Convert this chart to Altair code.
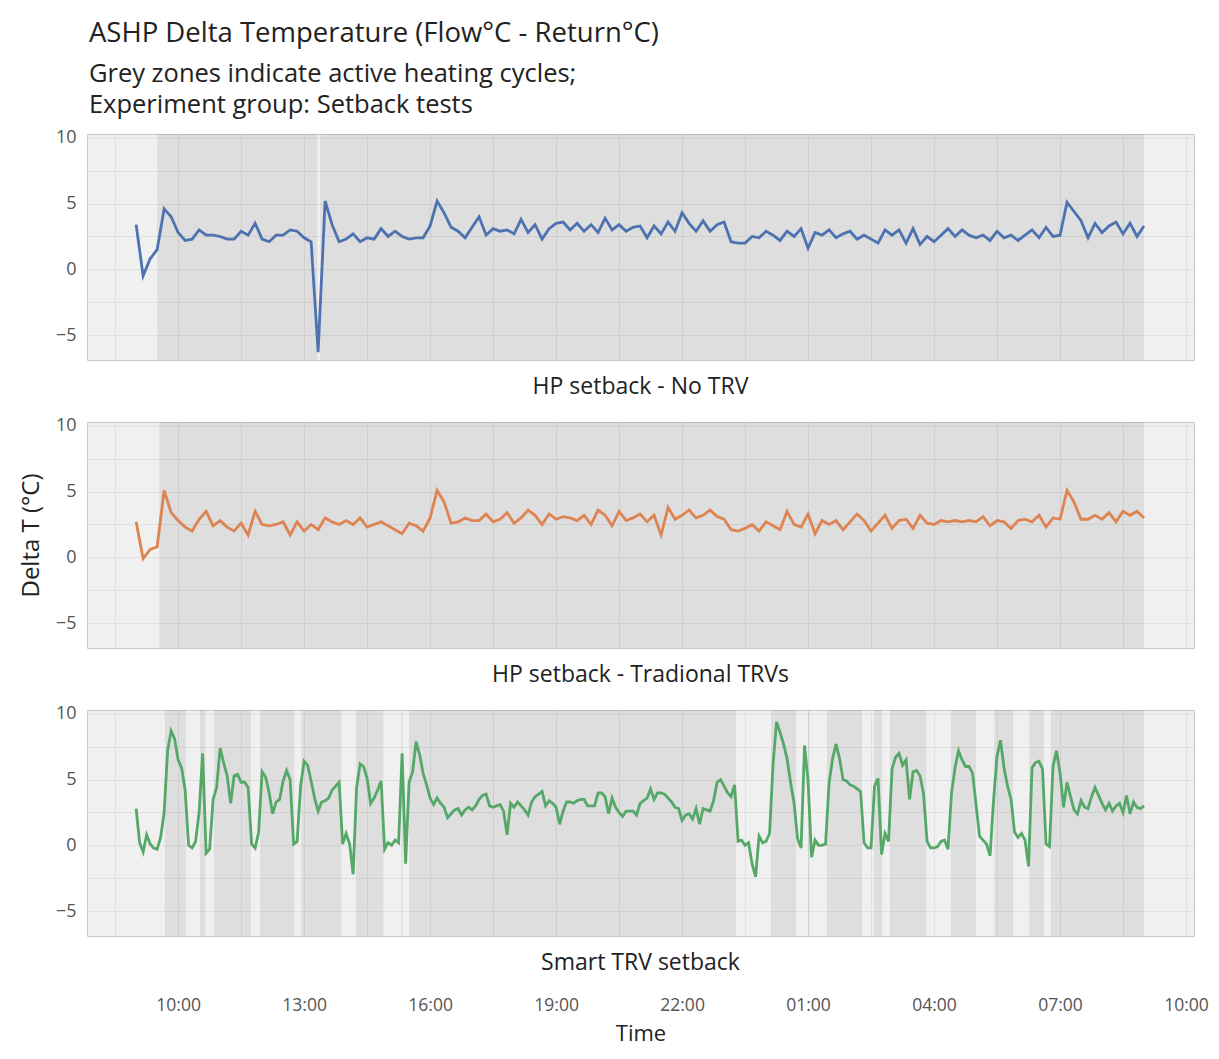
import altair as alt
import pandas as pd

FONT = "Open Sans"

# ---------------- data ----------------
START = "09:00"          # first reading
STEP_MIN_HP = 10         # minutes between readings (HP panels)
STEP_MIN_SMART = 5       # minutes between readings (Smart TRV panel)

hp_no_trv = [
    3.4, -0.5, 0.8, 1.5, 4.6, 4.0, 2.8, 2.2, 2.3, 3.0,
    2.6, 2.6, 2.5, 2.3, 2.3, 2.9, 2.6, 3.5, 2.3, 2.1,
    2.6, 2.6, 3.0, 2.9, 2.4, 2.1, -6.3, 5.2, 3.4, 2.1,
    2.3, 2.7, 2.1, 2.4, 2.3, 3.1, 2.5, 2.9, 2.5, 2.3,
    2.4, 2.4, 3.3, 5.2, 4.3, 3.2, 2.9, 2.4, 3.2, 4.0,
    2.6, 3.1, 2.9, 3.0, 2.7, 3.8, 2.8, 3.4, 2.3, 3.1,
    3.5, 3.6, 3.0, 3.5, 2.9, 3.4, 2.8, 3.9, 3.0, 3.4,
    2.9, 3.2, 3.3, 2.4, 3.3, 2.7, 3.6, 2.9, 4.3, 3.5,
    2.9, 3.7, 2.9, 3.4, 3.6, 2.1, 2.0, 2.0, 2.5, 2.4,
    2.9, 2.6, 2.2, 2.9, 2.5, 3.1, 1.6, 2.8, 2.6, 3.0,
    2.4, 2.7, 2.9, 2.3, 2.6, 2.3, 2.0, 3.0, 2.6, 3.0,
    2.0, 3.1, 1.9, 2.5, 2.1, 2.6, 3.1, 2.5, 3.0, 2.6,
    2.4, 2.6, 2.2, 2.9, 2.4, 2.6, 2.2, 2.6, 3.0, 2.4,
    3.2, 2.5, 2.6, 5.1, 4.4, 3.7, 2.4, 3.5, 2.8, 3.3,
    3.6, 2.7, 3.5, 2.5, 3.3,
]

hp_trad_trv = [
    2.7, -0.1, 0.6, 0.8, 5.1, 3.4, 2.8, 2.3, 2.0, 2.9,
    3.5, 2.4, 2.8, 2.3, 2.0, 2.6, 1.7, 3.5, 2.5, 2.4,
    2.5, 2.7, 1.7, 2.7, 2.0, 2.5, 2.1, 3.0, 2.7, 2.5,
    2.8, 2.5, 3.0, 2.3, 2.5, 2.7, 2.4, 2.1, 1.8, 2.6,
    2.4, 2.0, 3.0, 5.1, 4.2, 2.6, 2.7, 3.0, 2.8, 2.8,
    3.3, 2.7, 2.9, 3.4, 2.6, 3.0, 3.6, 3.2, 2.5, 3.3,
    2.9, 3.1, 3.0, 2.8, 3.2, 2.5, 3.6, 3.2, 2.4, 3.5,
    2.8, 3.0, 3.3, 2.7, 3.2, 1.7, 3.8, 2.9, 3.2, 3.6,
    3.0, 3.2, 3.6, 3.1, 2.9, 2.1, 2.0, 2.2, 2.5, 2.0,
    2.7, 2.4, 2.1, 3.5, 2.5, 2.3, 3.3, 1.8, 2.8, 2.5,
    2.8, 2.1, 2.7, 3.3, 2.8, 2.0, 2.6, 3.2, 2.2, 2.8,
    2.9, 2.2, 3.2, 2.6, 2.5, 2.8, 2.7, 2.8, 2.7, 2.8,
    2.7, 3.1, 2.4, 2.8, 2.7, 2.2, 2.8, 2.9, 2.7, 3.2,
    2.3, 3.0, 2.9, 5.1, 4.2, 2.9, 2.9, 3.2, 2.9, 3.4,
    2.7, 3.5, 3.2, 3.5, 3.0,
]

smart_trv = [
    2.8, 0.2, -0.5, 0.8, 0.1, -0.2, -0.3, 0.6, 2.5, 7.2,
    8.7, 8.1, 6.5, 5.9, 4.2, 0.0, -0.2, 0.3, 2.5, 7.0,
    -0.6, -0.3, 3.5, 4.4, 7.4, 6.3, 5.3, 3.2, 5.3, 5.4,
    4.8, 4.8, 4.4, 0.1, -0.2, 1.0, 5.6, 5.2, 4.0, 2.4,
    3.3, 3.5, 4.9, 5.7, 5.0, 0.1, 0.3, 4.5, 6.4, 6.1,
    4.9, 3.6, 2.6, 3.3, 3.4, 3.6, 4.2, 4.5, 4.8, 0.1,
    0.9, 0.1, -2.2, 4.4, 6.2, 6.0, 5.1, 3.2, 3.6, 4.2,
    4.9, -0.3, 0.2, 0.0, 0.4, 0.2, 7.0, -1.4, 4.8, 5.6,
    7.9, 6.9, 5.5, 4.6, 3.6, 3.1, 3.6, 3.2, 2.9, 2.1,
    2.4, 2.7, 2.8, 2.3, 2.7, 2.9, 2.7, 3.0, 3.5, 3.8,
    3.9, 3.0, 2.9, 3.0, 3.1, 2.6, 0.8, 3.2, 2.9, 3.3,
    3.0, 2.7, 2.3, 3.3, 3.7, 3.9, 4.1, 3.0, 3.4, 3.2,
    2.9, 1.6, 2.6, 3.3, 3.3, 3.2, 3.4, 3.5, 3.5, 3.0,
    3.0, 3.0, 4.0, 4.0, 3.7, 2.4, 3.6, 2.9, 2.5, 2.2,
    2.6, 2.6, 2.6, 2.3, 3.2, 3.4, 3.6, 4.3, 3.5, 4.0,
    4.0, 3.9, 3.6, 3.3, 2.9, 2.8, 1.9, 2.3, 2.4, 2.0,
    2.8, 1.6, 2.8, 2.7, 2.6, 3.4, 4.8, 5.0, 4.5, 4.0,
    3.7, 4.6, 0.3, 0.4, 0.0, 0.2, -1.4, -2.4, 0.7, 0.2,
    0.3, 0.9, 6.2, 9.4, 8.6, 7.7, 6.6, 4.8, 3.2, 0.5,
    -0.2, 7.6, 4.9, -0.9, 0.4, 0.0, 0.0, 0.1, 4.7, 6.6,
    7.7, 6.6, 5.0, 4.9, 4.6, 4.5, 4.3, 4.1, 0.2, -0.2,
    -0.2, 4.5, 5.1, -0.7, 0.9, 0.3, 5.8, 6.7, 7.0, 6.1,
    6.5, 3.5, 5.6, 5.7, 5.3, 3.9, 0.3, -0.2, -0.2, -0.1,
    0.3, 0.4, -0.3, 4.0, 5.9, 7.2, 6.5, 6.0, 6.0, 5.5,
    3.1, 0.7, 0.4, 0.1, -0.8, 3.4, 6.8, 8.0, 5.9, 4.5,
    3.5, 1.0, 0.6, 0.9, 0.4, -1.6, 5.9, 6.3, 6.4, 5.8,
    0.1, -0.1, 6.0, 7.2, 5.5, 2.9, 4.8, 3.7, 2.7, 2.4,
    3.4, 2.9, 2.8, 3.7, 4.4, 3.8, 3.2, 2.7, 3.2, 2.6,
    3.0, 3.2, 2.5, 3.8, 2.4, 3.3, 2.9, 2.8, 3.0,
]

# active heating cycles (start, end) clock times
heat_no_trv = [("09:30", "13:19"), ("13:23", "09:00")]
heat_trad_trv = [("09:33", "09:00")]
heat_smart = [
    ("09:41", "10:11"), ("10:31", "10:39"), ("10:51", "11:44"), ("11:57", "12:46"),
    ("12:56", "13:53"), ("14:14", "14:53"), ("15:19", "15:21"), ("15:30", "23:17"),
    ("00:07", "00:43"), ("01:00", "01:02"), ("01:27", "02:17"), ("02:34", "02:46"),
    ("02:57", "03:49"), ("04:24", "05:00"), ("05:26", "05:53"), ("06:16", "06:37"),
    ("06:47", "09:00"),
]

panel_labels = ["HP setback - No TRV", "HP setback - Tradional TRVs", "Smart TRV setback"]
line_colors = ["#4C72B0", "#DD8452", "#55A868"]

X_TICKS = [8.5, 10, 11.5, 13, 14.5, 16, 17.5, 19, 20.5, 22, 23.5, 25, 26.5, 28, 29.5, 31, 32.5, 34]
Y_TICKS = [-5, -2.5, 0, 2.5, 5, 7.5, 10]
X_DOMAIN = [7.83, 34.19]
Y_DOMAIN = [-6.9, 10.3]

W, H = 1107, 226


def clock_to_h(s, is_end=False):
    hh, mm = s.split(":")
    v = int(hh) + int(mm) / 60.0
    if v < 9 or (is_end and v <= 9):
        v += 24
    return v


X_LABEL_EXPR = ("datum.value % 3 == 1 ? ((datum.value % 24) < 10 ? '0' : '') + "
                "(datum.value % 24) + ':00' : ''")


def make_panel(vals, step, zones, color, label, bottom, ytitle):
    t0 = clock_to_h(START)
    line_df = pd.DataFrame({"h": [t0 + i * step / 60.0 for i in range(len(vals))], "v": vals})
    zone_df = pd.DataFrame({
        "s": [clock_to_h(a) for a, b in zones],
        "e": [clock_to_h(b, True) for a, b in zones],
    })
    xscale = alt.Scale(domain=X_DOMAIN, nice=False, zero=False)
    yscale = alt.Scale(domain=Y_DOMAIN, nice=False, zero=False)
    xaxis = alt.Axis(values=X_TICKS, labelExpr=X_LABEL_EXPR, labels=bottom,
                     title="Time" if bottom else "", grid=True, ticks=False, tickSize=0,
                     domain=False, labelFontSize=17.5, labelPadding=60,
                     titleFontSize=22, titlePadding=10, labelFlush=False)
    yaxis = alt.Axis(values=Y_TICKS, labelExpr="datum.value % 5 == 0 ? datum.label : ''",
                     title=ytitle, grid=True, ticks=False, tickSize=0, domain=False,
                     labelFontSize=18, labelPadding=11, titleFontSize=24, titlePadding=12)
    rect = alt.Chart(zone_df).mark_rect(color="#000000", opacity=0.075).encode(
        x=alt.X("s:Q", scale=xscale, axis=xaxis), x2="e:Q")
    line = alt.Chart(line_df).mark_line(color=color, strokeWidth=2.8).encode(
        x=alt.X("h:Q", scale=xscale, axis=xaxis),
        y=alt.Y("v:Q", scale=yscale, axis=yaxis))
    txt = alt.Chart(pd.DataFrame({"label": [label]})).mark_text(
        fontSize=23, font=FONT, color="#222222", baseline="middle", align="center").encode(
        x=alt.value(W / 2), y=alt.value(H + 27), text="label:N")
    return alt.layer(rect, line, txt).properties(width=W, height=H)


p1 = make_panel(hp_no_trv, STEP_MIN_HP, heat_no_trv, line_colors[0], panel_labels[0], False, "")
p2 = make_panel(hp_trad_trv, STEP_MIN_HP, heat_trad_trv, line_colors[1], panel_labels[1], False, "Delta T (°C)")
p3 = make_panel(smart_trv, STEP_MIN_SMART, heat_smart, line_colors[2], panel_labels[2], True, "")

chart = alt.vconcat(p1, p2, p3, spacing=62, bounds="flush").properties(
    title=alt.TitleParams(
        text="ASHP Delta Temperature (Flow°C - Return°C)",
        subtitle=["Grey zones indicate active heating cycles;", "Experiment group: Setback tests"],
        anchor="start", fontSize=27.5, subtitleFontSize=25.5, fontWeight="normal",
        color="#222222", subtitleColor="#222222", subtitlePadding=14,
        subtitleLineHeight=31, offset=10, font=FONT, subtitleFont=FONT, dx=70),
    padding={"left": 18, "top": 20, "right": 4, "bottom": 6},
).configure_view(
    fill="#f0f0f0", stroke="#c8c8c8", strokeWidth=1
).configure_axis(
    gridColor="#e0e0e0", gridWidth=1, labelFont=FONT, titleFont=FONT,
    labelColor="#555555", titleColor="#222222", titleFontWeight="normal"
)

chart.save("out.html", embed_options={"renderer": "svg", "actions": False})
